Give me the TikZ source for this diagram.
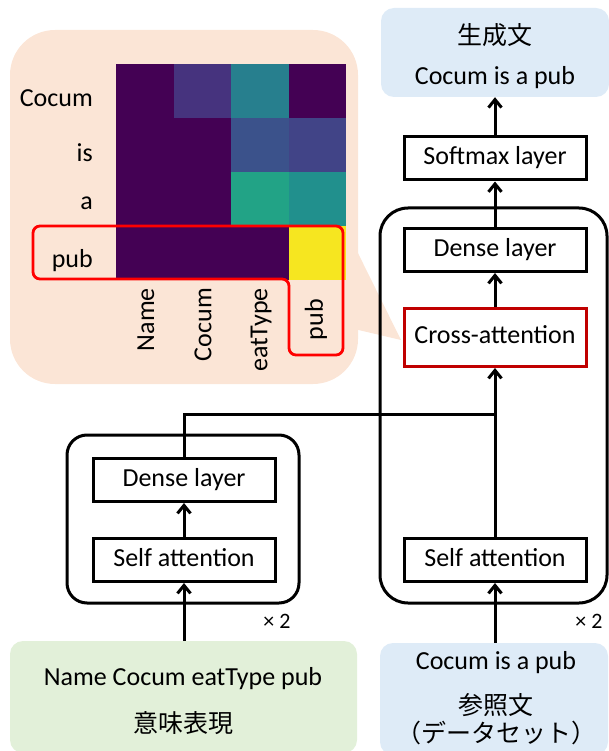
\documentclass[tikz,border=0pt]{standalone}
\usepackage{fontspec}
\setmainfont{Carlito}
\newfontfamily\cjk{Noto Sans CJK JP}
\usetikzlibrary{arrows.meta}
\definecolor{peach}{HTML}{FBE5D6}
\definecolor{lblue}{HTML}{DEEBF7}
\definecolor{lgreen}{HTML}{E2F0D9}
\definecolor{darkred}{HTML}{C00000}
\definecolor{vA}{HTML}{440154}
\definecolor{vB}{HTML}{46337E}
\definecolor{vC}{HTML}{277F8E}
\definecolor{vD}{HTML}{3B528B}
\definecolor{vE}{HTML}{414487}
\definecolor{vF}{HTML}{22A386}
\definecolor{vG}{HTML}{21908D}
\definecolor{vH}{HTML}{F6E620}
\begin{document}
\begin{tikzpicture}[x=1pt,y=-1pt,
  every node/.style={font=\fontsize{26}{30}\selectfont, inner sep=0pt},
  layer/.style={draw=black, line width=3pt, fill=white, minimum width=182pt, minimum height=43pt, text height=17pt, text depth=5pt},
  conn/.style={line width=3pt},
  arr/.style={conn, -{Straight Barb[length=8pt,width=13pt]}},
  cont/.style={line width=3pt},
  tag/.style={font=\fontsize{22}{26}\selectfont},
  lbl/.style={anchor=base east},
  collbl/.style={rotate=90, anchor=east},
  iobox/.style={rounded corners=13pt, minimum width=228pt}
]
\useasboundingbox (0,0) rectangle (609,751);

% callout bubble with heat map
\fill[peach, rounded corners=45pt] (10,30) rectangle (358,384);
\fill[peach] (350,237) -- (401,340) -- (350,328) -- cycle;
\foreach \col/\row/\clr in {0/0/vA,1/0/vB,2/0/vC,3/0/vA,
                            0/1/vA,1/1/vA,2/1/vD,3/1/vE,
                            0/2/vA,1/2/vA,2/2/vF,3/2/vG,
                            0/3/vA,1/3/vA,2/3/vA,3/3/vH}
  \fill[\clr] ({116+57.5*\col},{64+54*\row}) rectangle ++(57.5,54);
\node[lbl] (rCocum) at (93,107) {Cocum};
\node[lbl] (ris) at (93,162) {is};
\node[lbl] (ra) at (93,210) {a};
\node[lbl] (rpub) at (93,267) {pub};
\node[collbl] (cName) at (146,288) {Name};
\node[collbl] (cCocum) at (203,288) {Cocum};
\node[collbl] (ceat) at (261,288) {eatType};
\node[collbl] (cpub) at (316,299) {pub};
\draw[red, line width=2.8pt, rounded corners=7pt]
  (33,226) -- (343,226) -- (343,355) -- (289,355) -- (289,279) -- (33,279) -- cycle;

% containers
\draw[cont, rounded corners=20pt] (67,435) rectangle (299,603);
\draw[cont, rounded corners=28pt] (380,208) rectangle (607,603);
\node[tag] (x2L) at (277,621) {× 2};
\node[tag] (x2R) at (589,621) {× 2};

% output box
\node[fill=lblue, iobox, minimum height=89pt] (gen) at (495,52.5) {};
\node[font=\fontsize{25}{30}\cjk] (genJ) at (495,35) {生成文};
\node (genE) at (495,78) {Cocum is a pub};

% input boxes
\node[fill=lgreen, rounded corners=13pt, minimum width=347pt, minimum height=112pt] (inL) at (183.5,697) {};
\node (inLE) at (183,679) {Name Cocum eatType pub};
\node[font=\fontsize{25}{30}\cjk] (inLJ) at (183,723) {意味表現};
\node[fill=lblue, iobox, minimum height=112pt] (inR) at (494,699) {};
\node (inRE) at (496,663) {Cocum is a pub};
\node[font=\fontsize{25}{30}\cjk] (inRJ) at (496,705) {参照文};
\node[font=\fontsize{25}{30}\cjk] (inRD) at (496,733) {（データセット）};

% layers
\node[layer] (softmax) at (495,158.5) {Softmax layer};
\node[layer] (denseR) at (495,250) {Dense layer};
\node[layer, draw=darkred, minimum height=58pt] (cross) at (495,337.5) {Cross-attention};
\node[layer] (selfR) at (495,560) {Self attention};
\node[layer] (denseL) at (184,480) {Dense layer};
\node[layer] (selfL) at (184,560) {Self attention};

% connectors
\coordinate (J) at (495,414);
\draw[conn] (denseL.north) |- (J);
\draw[conn] (selfR.north) -- (J);
\draw[arr] (J) -- (cross.south);
\draw[arr] (cross.north) -- (denseR.south);
\draw[arr] (denseR.north) -- (softmax.south);
\draw[arr] (softmax.north) -- (gen.south);
\draw[arr] (selfL.north) -- (denseL.south);
\draw[arr] (selfL.south |- inL.north) -- (selfL.south);
\draw[arr] (selfR.south |- inR.north) -- (selfR.south);
\end{tikzpicture}
\end{document}
